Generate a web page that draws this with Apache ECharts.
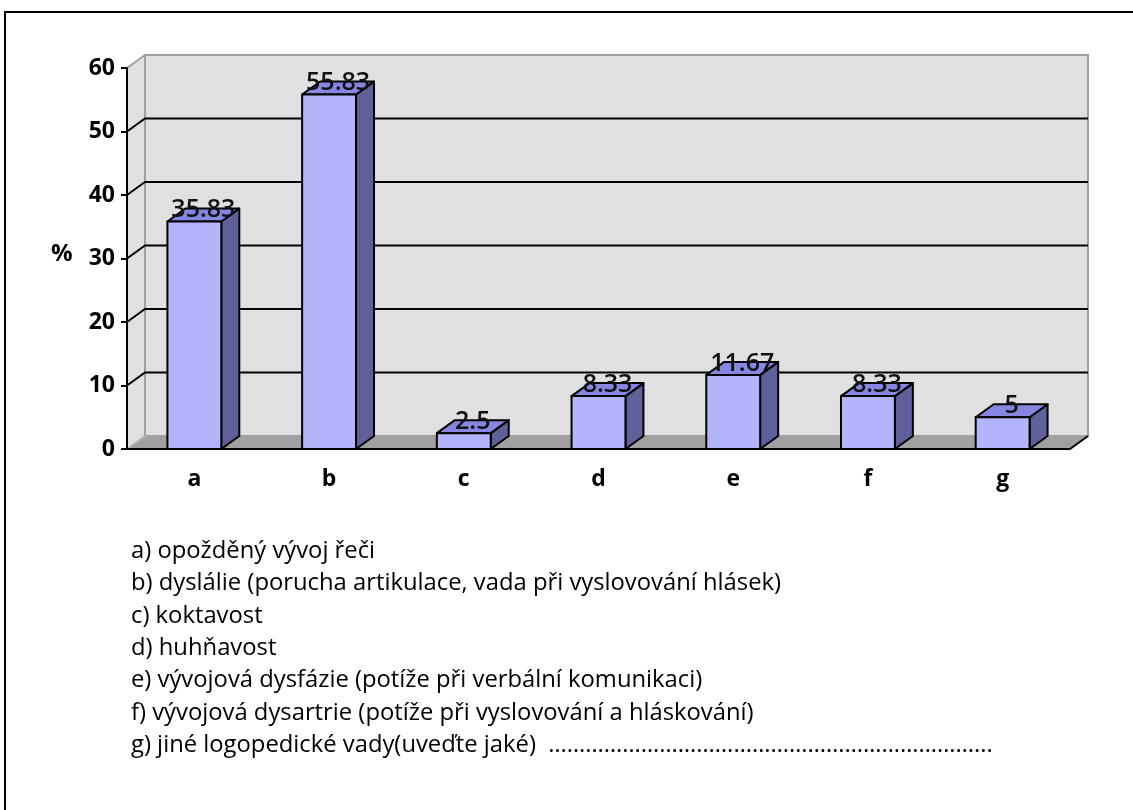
<!DOCTYPE html>
<html>
<head>
<meta charset="utf-8">
<script src="https://cdn.jsdelivr.net/npm/echarts@6/dist/echarts.min.js"></script>
<style>
  html, body { margin: 0; padding: 0; background: #fff; }
  #chart { width: 1133px; height: 810px; }
</style>
</head>
<body>
<div id="chart"></div>
<script>
// Categories and percentage values
const categories = ['a', 'b', 'c', 'd', 'e', 'f', 'g'];
const percentages = [35.83, 55.83, 2.5, 8.33, 11.67, 8.33, 5];
const yTicks = [0, 10, 20, 30, 40, 50, 60];
const legendLines = [
  'a) opožděný vývoj řeči',
  'b) dyslálie (porucha artikulace, vada při vyslovování hlásek)',
  'c) koktavost',
  'd) huhňavost',
  'e) vývojová dysfázie (potíže při verbální komunikaci)',
  'f) vývojová dysartrie (potíže při vyslovování a hláskování)',
  'g) jiné logopedické vady(uveďte jaké)  ……………………………………………………………...'
];

// 3D depth offset of the bars and walls
const DX = 18, DY = -13;
const BAR_RATIO = 0.4;
const AXIS_FONT = '"Open Sans", "DejaVu Sans", sans-serif';

const chart = echarts.init(document.getElementById('chart'));

// Back wall, side wall, floor and gridlines
function renderWalls(params, api) {
  const cs = params.coordSys;
  const x0 = cs.x, x1 = cs.x + cs.width;
  const yT = cs.y, yB = cs.y + cs.height;
  const children = [];
  children.push({
    type: 'polygon',
    shape: { points: [[x0, yT], [x0 + DX, yT + DY], [x0 + DX, yB + DY], [x0, yB]] },
    style: { fill: '#e0e0e0', stroke: null }
  });
  children.push({
    type: 'rect',
    shape: { x: x0 + DX, y: yT + DY, width: x1 - x0, height: yB - yT },
    style: { fill: '#e0e0e0', stroke: '#a0a0a0', lineWidth: 2 }
  });
  children.push({
    type: 'polygon',
    shape: { points: [[x0, yB], [x1, yB], [x1 + DX, yB + DY], [x0 + DX, yB + DY]] },
    style: { fill: '#a0a0a0', stroke: null }
  });
  // top edge and floor edge of side wall
  children.push({
    type: 'line', shape: { x1: x0, y1: yT, x2: x0 + DX, y2: yT + DY },
    style: { stroke: '#a0a0a0', lineWidth: 2 }
  });
  children.push({
    type: 'line', shape: { x1: x0, y1: yB, x2: x0 + DX, y2: yB + DY },
    style: { stroke: '#b8b8b8', lineWidth: 2 }
  });
  // floor right edge
  children.push({
    type: 'line', shape: { x1: x1, y1: yB, x2: x1 + DX, y2: yB + DY },
    style: { stroke: '#000', lineWidth: 2 }
  });
  yTicks.forEach(function (v) {
    if (v === yTicks[0] || v === yTicks[yTicks.length - 1]) return;
    const y = api.coord([0, v])[1];
    children.push({
      type: 'polyline',
      shape: { points: [[x0, y], [x0 + DX, y + DY], [x1 + DX, y + DY]] },
      style: { stroke: '#000', lineWidth: 2, fill: null }
    });
  });
  return { type: 'group', children: children };
}

// 3D bar: front face, top face, side face and value label
function renderBar(params, api) {
  const idx = api.value(0);
  const val = api.value(1);
  const base = api.coord([idx, 0]);
  const top = api.coord([idx, val]);
  const w = api.size([1, 0])[0] * BAR_RATIO;
  const l = top[0] - w / 2, r = l + w;
  const yt = top[1], yb = base[1];
  const edge = { stroke: '#000', lineWidth: 2, lineJoin: 'round' };
  return {
    type: 'group',
    children: [
      {
        type: 'polygon',
        shape: { points: [[r, yt], [r + DX, yt + DY], [r + DX, yb + DY], [r, yb]] },
        style: Object.assign({ fill: '#5f5f99' }, edge)
      },
      {
        type: 'polygon',
        shape: { points: [[l, yt], [l + DX, yt + DY], [r + DX, yt + DY], [r, yt]] },
        style: Object.assign({ fill: '#8686e2' }, edge)
      },
      {
        type: 'rect',
        shape: { x: l, y: yt, width: w, height: yb - yt },
        style: Object.assign({ fill: '#b4b4fd' }, edge)
      },
      {
        type: 'text',
        x: top[0] + DX / 2,
        y: yt + DY / 2 - 5,
        style: {
          text: String(val),
          align: 'center',
          verticalAlign: 'middle',
          font: '600 25px "Open Sans"',
          fill: '#111'
        }
      }
    ]
  };
}

const graphics = [
  { type: 'line', shape: { x1: 4, y1: 12, x2: 1133, y2: 12 }, style: { stroke: '#000', lineWidth: 2 } },
  { type: 'line', shape: { x1: 5, y1: 12, x2: 5, y2: 810 }, style: { stroke: '#000', lineWidth: 2 } },
  {
    type: 'text', left: 51, top: 242,
    style: { text: '%', font: 'bold 24px "Open Sans"', fill: '#000' }
  }
];
legendLines.forEach(function (t, i) {
  graphics.push({
    type: 'text', left: 131, top: 539 + i * 32.4,
    style: { text: t, font: '23.8px "Open Sans"', fill: '#000' }
  });
});

chart.setOption({
  animation: false,
  backgroundColor: '#fff',
  grid: { left: 127, right: 63, top: 68, bottom: 361, containLabel: false },
  xAxis: {
    type: 'category',
    data: categories,
    axisLine: { lineStyle: { color: '#000', width: 2 } },
    axisTick: { length: 6, lineStyle: { color: '#000', width: 2 } },
    axisLabel: { color: '#000', fontFamily: AXIS_FONT, fontWeight: 'bold', fontSize: 23, margin: 19 },
    splitLine: { show: false },
    z: 10
  },
  yAxis: {
    type: 'value',
    min: yTicks[0],
    max: yTicks[yTicks.length - 1],
    interval: 10,
    axisLine: { show: true, lineStyle: { color: '#000', width: 2 } },
    axisTick: { show: true, length: 6, lineStyle: { color: '#000', width: 2 } },
    axisLabel: { color: '#000', fontFamily: AXIS_FONT, fontWeight: 'bold', fontSize: 23, margin: 12 },
    splitLine: { show: false },
    z: 10
  },
  series: [
    {
      type: 'custom',
      renderItem: renderWalls,
      data: [[0, 0]],
      clip: false,
      silent: true,
      z: 1
    },
    {
      type: 'custom',
      renderItem: renderBar,
      data: percentages.map(function (v, i) { return [i, v]; }),
      encode: { x: 0, y: 1 },
      clip: false,
      z: 5
    }
  ],
  graphic: graphics
});
</script>
</body>
</html>
